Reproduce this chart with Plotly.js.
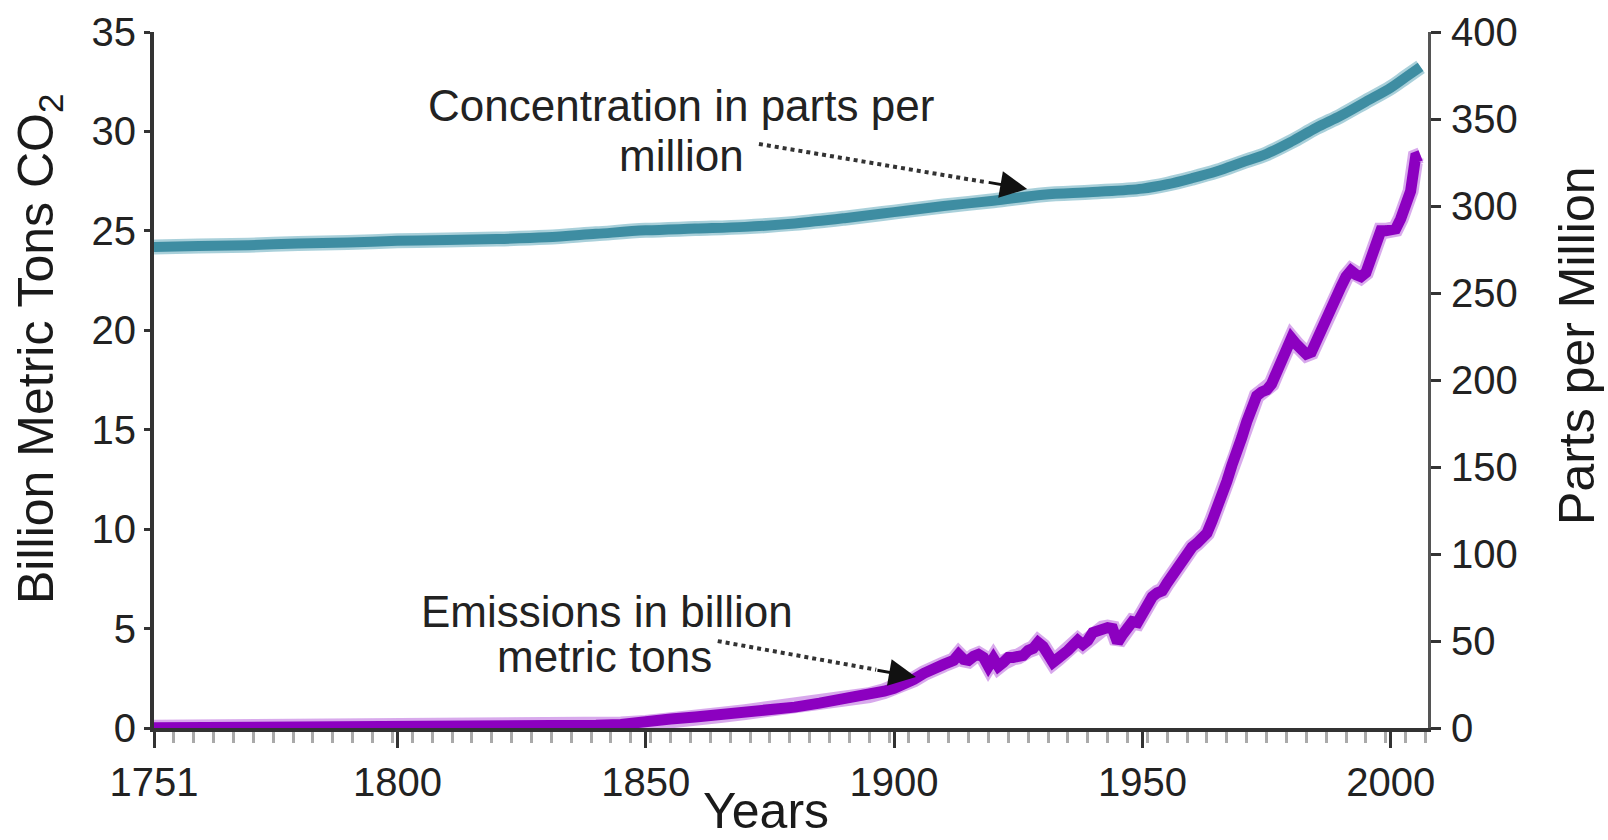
<!DOCTYPE html>
<html>
<head>
<meta charset="utf-8">
<script src="https://cdn.plot.ly/plotly-3.0.1.min.js"></script>
<style>html,body{margin:0;padding:0;background:#fff;}#chart{width:1608px;height:840px;}</style>
</head>
<body>
<div id="chart"></div>
<script>
// Atmospheric CO2 concentration (ppm, right axis)
const concYears = [1751,1760,1770,1780,1790,1800,1810,1820,1830,1840,1850,1860,1870,1880,1890,1900,1910,1920,1930,1940,1950,1955,1960,1965,1970,1975,1980,1985,1990,1995,2000,2003,2006];
const concPpm   = [276.5,277,277.5,278.5,279,280,280.5,281,282,284,286,287,288,290,293,296.5,300,303,306.5,308,310,312.5,316,320,325,330,337,345,352,360,368,374,380];

// CO2 emissions (billion metric tons, left axis)
const emisYears = [1751,1760,1770,1780,1790,1800,1810,1820,1830,1840,1845,1850,1855,1860,1865,1870,1875,1880,1885,1890,1895,1898,1900,1902,1904,1906,1908,1910,1912,1913,1914,1915,1916,1917,1918,1919,1920,1921,1922,1923,1924,1925,1926,1927,1928,1929,1930,1931,1932,1933,1934,1935,1936,1937,1938,1939,1940,1941,1942,1943,1944,1945,1946,1947,1948,1949,1950,1951,1952,1953,1954,1955,1956,1957,1958,1959,1960,1961,1962,1963,1964,1965,1966,1967,1968,1969,1970,1971,1972,1973,1974,1975,1976,1977,1978,1979,1980,1981,1982,1983,1984,1985,1986,1987,1988,1989,1990,1991,1992,1993,1994,1995,1996,1997,1998,1999,2000,2001,2002,2003,2004,2005,2006];
const emisValues = [0.01,0.01,0.02,0.02,0.03,0.04,0.05,0.05,0.08,0.14,0.18,0.25,0.45,0.55,0.65,0.8,0.95,1.05,1.25,1.45,1.65,1.85,2.0,2.2,2.45,2.75,3.05,3.2,3.4,3.7,3.45,3.4,3.6,3.7,3.55,3.1,3.5,3.1,3.3,3.55,3.55,3.6,3.65,3.9,4.0,4.3,4.1,3.7,3.3,3.5,3.8,3.9,4.15,4.4,4.2,4.4,4.8,4.9,5.0,5.05,5.0,4.3,4.7,5.1,5.35,5.3,5.8,6.3,6.6,6.8,6.9,7.3,7.7,8.0,8.4,8.8,9.1,9.3,9.5,9.8,10.4,11.0,11.7,12.4,13.2,13.8,14.6,15.4,16.0,16.7,16.9,17.0,17.3,17.9,18.5,19.2,19.6,19.3,19.1,18.8,18.9,19.5,20.1,20.5,21.2,21.8,22.2,22.7,23.0,22.8,22.7,22.9,23.6,24.4,25.0,25.0,25.0,25.1,25.6,26.3,27.0,28.7,28.8];

// Tick labels
const xTickVals = [1751,1800,1850,1900,1950,2000];
const xTickText = ['1751','1800','1850','1900','1950','2000'];

const TEAL = 'rgb(62,141,162)';
const TEAL_LIGHT = 'rgba(160,203,214,0.9)';
const PURPLE = 'rgb(140,0,192)';
const PURPLE_LIGHT = 'rgba(212,160,234,0.9)';
const FONT = 'Liberation Sans, Arial, Helvetica, sans-serif';

const traces = [
  {x: concYears, y: concPpm, yaxis: 'y2', mode: 'lines', line: {color: TEAL_LIGHT, width: 15, shape: 'spline'}, hoverinfo: 'skip', cliponaxis: false},
  {x: concYears, y: concPpm, yaxis: 'y2', mode: 'lines', line: {color: TEAL, width: 10, shape: 'spline'}, name: 'Concentration', cliponaxis: false},
  {x: emisYears, y: emisValues, yaxis: 'y', mode: 'lines', line: {color: PURPLE_LIGHT, width: 16}, hoverinfo: 'skip', cliponaxis: false},
  {x: emisYears, y: emisValues, yaxis: 'y', mode: 'lines', line: {color: PURPLE, width: 11}, name: 'Emissions', cliponaxis: false}
];

const textFont = {family: FONT, size: 44, color: '#222'};
const titleFont = {family: FONT, size: 50, color: '#1a1a1a'};
const tickFont = {family: FONT, size: 40, color: '#222'};

const layout = {
  width: 1608, height: 840,
  margin: {l: 154, r: 180, t: 32, b: 112, pad: 0},
  paper_bgcolor: '#fff', plot_bgcolor: '#fff',
  showlegend: false,
  font: {family: FONT, color: '#333'},
  xaxis: {
    range: [1751, 2007.5],
    tickmode: 'array', tickvals: xTickVals, ticktext: xTickText,
    ticks: 'outside', ticklen: 16, tickwidth: 3, tickcolor: '#333',
    showline: true, linecolor: '#333', linewidth: 4,
    showgrid: false, zeroline: false,
    tickfont: tickFont,
    minor: {tickmode: 'linear', tick0: 1751, dtick: 4, ticks: 'outside', ticklen: 11, tickwidth: 3, tickcolor: '#aaa', showgrid: false},
    layer: 'below traces'
  },
  yaxis: {
    range: [0, 35], tickmode: 'linear', tick0: 0, dtick: 5,
    ticks: 'outside', ticklen: 6, tickwidth: 3, tickcolor: '#333',
    showline: true, linecolor: '#333', linewidth: 4,
    showgrid: false, zeroline: false,
    tickfont: tickFont,
    layer: 'below traces'
  },
  yaxis2: {
    range: [0, 400], tickmode: 'linear', tick0: 0, dtick: 50,
    overlaying: 'y', side: 'right',
    ticks: 'outside', ticklen: 10, tickwidth: 3, tickcolor: '#333',
    showline: true, linecolor: '#555', linewidth: 3,
    showgrid: false, zeroline: false,
    ticklabelstandoff: 2,
    tickfont: tickFont,
    layer: 'below traces'
  },
  shapes: [
    {type: 'line', xref: 'x', yref: 'y', x0: 1872.8, y0: 29.37, x1: 1918.7, y1: 27.44, line: {color: '#333', width: 4, dash: 'dot'}},
    {type: 'line', xref: 'x', yref: 'y', x0: 1864.5, y0: 4.37, x1: 1896.4, y1: 2.93, line: {color: '#333', width: 4, dash: 'dot'}}
  ],
  annotations: [
    {xref: 'paper', yref: 'paper', x: 0.4137, y: 0.894, text: 'Concentration in parts per', showarrow: false, font: textFont, xanchor: 'center', yanchor: 'middle'},
    {xref: 'paper', yref: 'paper', x: 0.4144, y: 0.822, text: 'million', showarrow: false, font: textFont, xanchor: 'center', yanchor: 'middle'},
    {xref: 'paper', yref: 'paper', x: 0.3556, y: 0.1667, text: 'Emissions in billion', showarrow: false, font: textFont, xanchor: 'center', yanchor: 'middle'},
    {xref: 'paper', yref: 'paper', x: 0.354, y: 0.1034, text: 'metric tons', showarrow: false, font: textFont, xanchor: 'center', yanchor: 'middle'},
    {xref: 'x', yref: 'y', x: 1926.8, y: 27.1, text: '', showarrow: true, ax: -40, ay: -7, arrowhead: 2, arrowsize: 1.8, arrowwidth: 3, arrowcolor: '#111', standoff: 0},
    {xref: 'x', yref: 'y', x: 1904.4, y: 2.56, text: '', showarrow: true, ax: -40, ay: -7, arrowhead: 2, arrowsize: 1.8, arrowwidth: 3, arrowcolor: '#111', standoff: 0},
    {xref: 'paper', yref: 'paper', x: -0.0903, y: 0.5445, text: 'Billion Metric Tons CO<sub>2</sub>', textangle: -90, showarrow: false, font: titleFont, xanchor: 'center', yanchor: 'middle'},
    {xref: 'paper', yref: 'paper', x: 1.117, y: 0.549, text: 'Parts per Million', textangle: -90, showarrow: false, font: titleFont, xanchor: 'center', yanchor: 'middle'},
    {xref: 'paper', yref: 'paper', x: 0.4804, y: -0.1609, text: 'Years', showarrow: false, font: titleFont, xanchor: 'center', yanchor: 'bottom', borderpad: 0}
  ]
};

Plotly.newPlot('chart', traces, layout, {displayModeBar: false, staticPlot: true});
</script>
</body>
</html>
